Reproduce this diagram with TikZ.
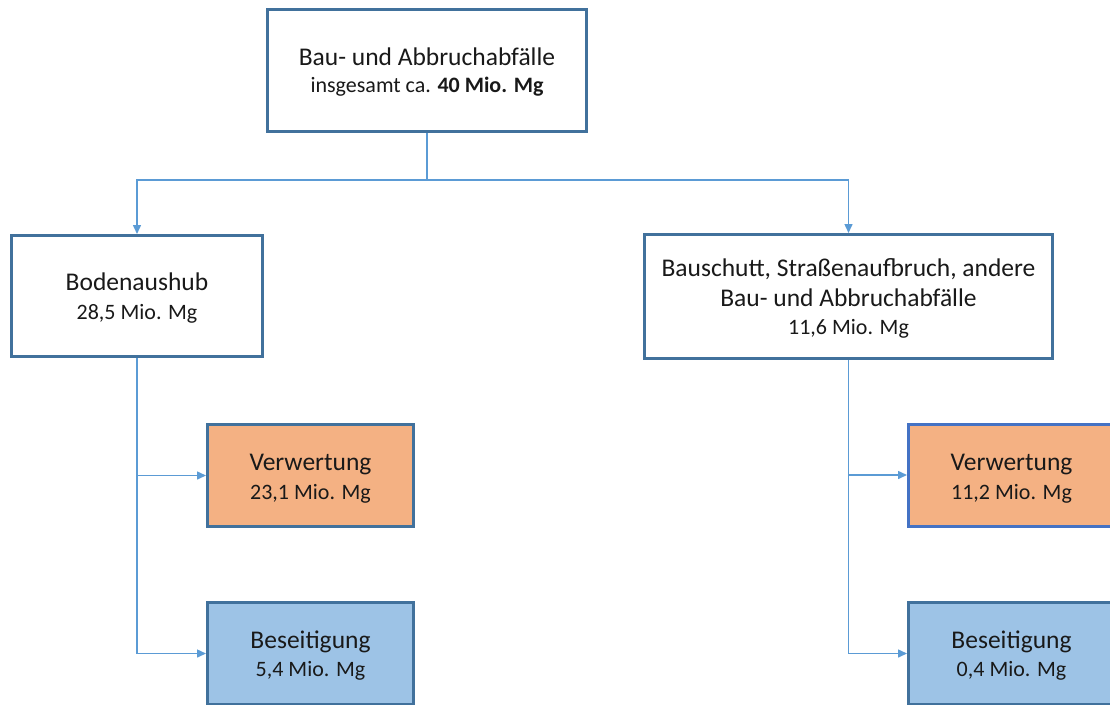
\documentclass[tikz,border=0pt]{standalone}
\usepackage{fontspec}
\setmainfont{Carlito}
\usetikzlibrary{arrows.meta}
\definecolor{boxborder}{HTML}{41719C}
\definecolor{boxborderB}{HTML}{4472C4}
\definecolor{conn}{HTML}{5B9BD5}
\definecolor{verw}{HTML}{F4B183}
\definecolor{beseit}{HTML}{9DC3E6}
\newcommand{\sm}[1]{{\fontsize{22}{26}\selectfont #1}}
\newcommand{\bt}[2]{\raisebox{#1}[0pt][0pt]{\begin{tabular}[t]{@{}c@{}}#2\end{tabular}}}
\tikzset{
  box/.style={draw=boxborder, line width=3pt, rectangle, inner sep=0pt,
    font=\fontsize{25.5}{28.5}\selectfont, text=black!90},
  arr/.style={draw=conn, line width=1.5pt, -{Triangle[length=9pt,width=8pt]}},
  ln/.style={draw=conn, line width=1.5pt},
}
\begin{document}
\begin{tikzpicture}[x=1pt,y=-1pt]
\path[use as bounding box] (0,0) rectangle (1110,704);
\begin{scope}
\clip (0,0) rectangle (1110,704);
\node[box, fill=white, minimum width=319pt, minimum height=122pt] (top) at (427,70.5)
  {\bt{5.5pt}{Bau- und Abbruchabfälle\\[-1.5pt] \sm{insgesamt ca. \textbf{40 Mio. Mg}}}};
\node[box, fill=white, minimum width=251pt, minimum height=121pt] (bod) at (137,296)
  {\bt{5.3pt}{Bodenaushub\\ \sm{28,5 Mio. Mg}}};
\node[box, fill=white, minimum width=408pt, minimum height=124pt] (bau) at (848.5,296.5)
  {\bt{19.8pt}{Bauschutt, Straßenaufbruch, andere\\[1pt] Bau- und Abbruchabfälle\\ \sm{11,6 Mio. Mg}}};
\node[box, fill=verw, minimum width=206pt, minimum height=102pt] (verl) at (310.5,475.5)
  {\bt{5pt}{Verwertung\\ \sm{23,1 Mio. Mg}}};
\node[box, fill=beseit, minimum width=206pt, minimum height=102pt] (besl) at (310.5,653.5)
  {\bt{5.2pt}{Beseitigung\\ \sm{5,4 Mio. Mg}}};
\node[box, draw=boxborderB, fill=verw, minimum width=206pt, minimum height=102pt] (verr) at (1011.5,475)
  {\bt{4.5pt}{Verwertung\\ \sm{11,2 Mio. Mg}}};
\node[box, fill=beseit, minimum width=206pt, minimum height=102pt] (besr) at (1011.5,653.5)
  {\bt{5.2pt}{Beseitigung\\ \sm{0,4 Mio. Mg}}};
\coordinate (j) at (427,180);
\draw[ln] (top.south) -- (j);
\draw[arr] (j) -| (bod.north);
\draw[arr] (j) -| (bau.north);
\draw[arr] (bod.south) |- (verl.west);
\draw[arr] (bod.south) |- (besl.west);
\draw[arr] (bau.south) |- (verr.west);
\draw[arr] (bau.south) |- (besr.west);
\end{scope}
\end{tikzpicture}
\end{document}
